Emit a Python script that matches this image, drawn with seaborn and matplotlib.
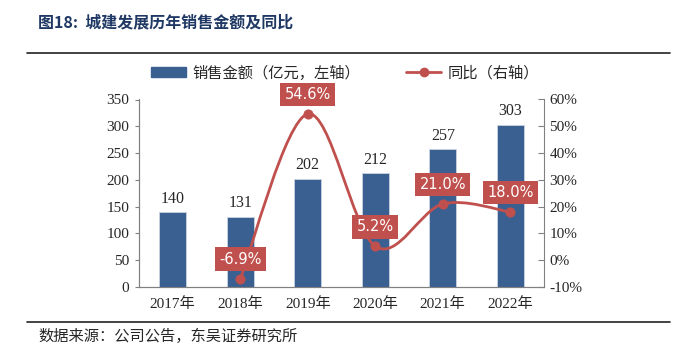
import numpy as np
import pandas as pd
import seaborn as sns
import matplotlib.pyplot as plt
from matplotlib.path import Path
from matplotlib.patches import PathPatch, Patch
from matplotlib.lines import Line2D

years = ['2017年', '2018年', '2019年', '2020年', '2021年', '2022年']
sales = [140, 131, 202, 212, 257, 303]
yoy = [None, -6.9, 54.6, 5.2, 21.0, 18.0]

BAR = '#3A6092'
RED = '#C0504D'
SERIF = ['Liberation Serif', 'Noto Sans CJK SC']
CJK = ['Noto Sans CJK SC', 'DejaVu Sans']

sns.set_style('white')
plt.rcParams['font.family'] = SERIF

fig = plt.figure(figsize=(6.83, 3.55), dpi=100)
ax = fig.add_axes([139 / 683, 1 - 287 / 355, 405 / 683, 187.5 / 355])

df = pd.DataFrame({'year': years, 'sales': sales})
sns.barplot(data=df, x='year', y='sales', color=BAR, width=0.4, ax=ax,
            edgecolor='#c9d3e2', linewidth=0.6, saturation=1)
ax.set_xlim(-0.5, len(years) - 0.5)
ax.set_ylim(0, 350)
ax.set_yticks(range(0, 351, 50))
ax.set_xlabel('')
ax.set_ylabel('')
for i, v in enumerate(sales):
    ax.text(i, v + 10, str(v), ha='center', va='bottom', fontsize=11.5,
            family=SERIF)

ax.set_xticks(np.arange(len(years)))
ax.set_xticklabels(years, family=SERIF, fontsize=11)
ax.set_xticks(np.arange(-0.5, len(years)), minor=True)
ax.tick_params(axis='x', which='major', length=0, pad=7)
ax.tick_params(axis='x', which='minor', direction='in', length=4, color='#808080')
ax.tick_params(axis='y', direction='out', length=3, color='#808080', labelsize=11, pad=4)

ax2 = ax.twinx()
ax2.set_ylim(-10, 60)
ax2.set_yticks(range(-10, 61, 10))
ax2.set_yticklabels([f'{t}%' for t in range(-10, 61, 10)], family=SERIF, fontsize=11)
ax2.tick_params(axis='y', direction='in', length=4, color='#808080', pad=4)

for a in (ax, ax2):
    for s in ('left', 'right', 'bottom'):
        a.spines[s].set_color('#808080')
        a.spines[s].set_linewidth(0.8)
    a.spines['top'].set_visible(False)
ax.spines['right'].set_visible(False)

# smoothed line (Excel style) through the yoy points
xs = [i for i, v in enumerate(yoy) if v is not None]
ys = [v for v in yoy if v is not None]
pts = np.column_stack([xs, ys]).astype(float)
verts = [pts[0]]
codes = [Path.MOVETO]
for i in range(len(pts) - 1):
    p0 = pts[max(i - 1, 0)]
    p1 = pts[i]
    p2 = pts[i + 1]
    p3 = pts[min(i + 2, len(pts) - 1)]
    verts += [p1 + (p2 - p0) / 6, p2 - (p3 - p1) / 6, p2]
    codes += [Path.CURVE4] * 3
ax2.add_patch(PathPatch(Path(verts, codes), facecolor='none', edgecolor=RED,
                        linewidth=2, zorder=3))
sns.scatterplot(x=xs, y=ys, ax=ax2, color=RED, s=45, edgecolor=RED, zorder=4)

for x, y in zip(xs, ys):
    ax2.annotate(f'{y:.1f}%', (x, y), xytext=(0, 14), textcoords='offset points',
                 ha='center', va='center', color='white', fontsize=10.5,
                 family=['DejaVu Sans'], zorder=5,
                 bbox=dict(boxstyle='square,pad=0.3', fc=RED, ec='none'))

handles = [Patch(facecolor=BAR, edgecolor=BAR),
           Line2D([0], [0], color=RED, lw=2, marker='o', markersize=6)]
fig.legend(handles, ['销售金额（亿元，左轴）', '同比（右轴）'], loc='center',
           bbox_to_anchor=(0.505, 1 - 73 / 355), ncol=2, frameon=False,
           prop={'family': CJK, 'size': 11}, columnspacing=3,
           handlelength=2.3, handleheight=0.55, handletextpad=0.4)

fig.text(38 / 683, 1 - 22 / 355, '图18:  城建发展历年销售金额及同比', ha='left', va='center',
         fontsize=11.5, fontweight='bold', color='#1F3864', family=CJK)
fig.add_artist(Line2D([27 / 683, 670 / 683], [1 - 53 / 355] * 2, color='#222222', lw=1.2))
fig.add_artist(Line2D([27 / 683, 670 / 683], [1 - 322 / 355] * 2, color='#222222', lw=1.2))
fig.text(38 / 683, 1 - 336 / 355, '数据来源：公司公告，东吴证券研究所', ha='left', va='center',
         fontsize=11, family=CJK)

fig.savefig('out.png', dpi=100)
